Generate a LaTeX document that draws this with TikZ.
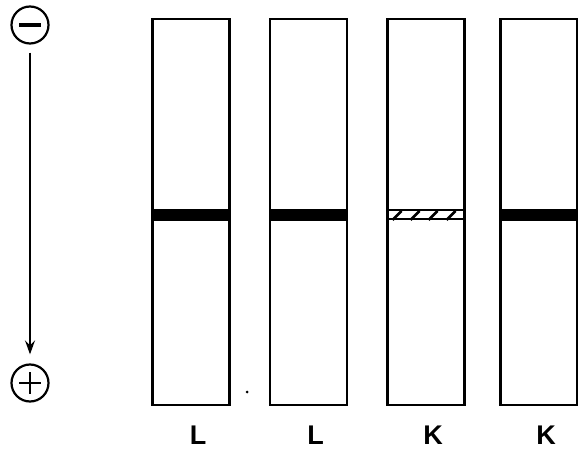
\documentclass[tikz,border=0pt]{standalone}
\usepackage{fontspec}
\setsansfont{Liberation Sans}
\usepackage{tikz}
\usetikzlibrary{arrows.meta,positioning,calc}
\tikzset{
  lane/.style={draw,line width=2.2pt,minimum width=77pt,minimum height=386pt,
    inner sep=0pt},
  band/.style={fill=black,minimum width=77pt,minimum height=12pt,inner sep=0pt},
  faint/.style={draw,line width=2pt,minimum width=77pt,minimum height=9pt,inner sep=0pt},
  pole/.style={draw,circle,line width=2.2pt,minimum size=37pt,inner sep=0pt},
  sign/.style={line width=2.6pt},
  lanelabel/.style={font=\fontsize{27}{30}\sffamily\bfseries},
  flow/.style={->,line width=2pt,shorten <=8pt,shorten >=9pt}
}
\begin{document}
\begin{tikzpicture}[x=1pt,y=-1pt,>={Stealth[length=14pt,width=10pt,inset=5pt]}]
  \useasboundingbox (0,0) rectangle (578,454);
  \node[pole] (cathode) at (30,25) {};
  \node[pole] (anode) at (30,383) {};
  \draw[sign,line width=3.4pt] ($(cathode.center)+(-11,0)$) -- ($(cathode.center)+(11,0)$);
  \draw[sign] ($(anode.center)+(-11,0)$) -- ($(anode.center)+(11,0)$);
  \draw[sign] ($(anode.center)+(0,-11)$) -- ($(anode.center)+(0,11)$);
  \draw[flow] (cathode)--(anode);
  \foreach \n/\x/\lab in {1/191/L,2/308.5/L,3/426/K,4/539/K}{
    \node[lane] (lane\n) at (\x,212) {};
    \node[lanelabel] (lab\n) at (\x+7,435) {\lab};
  }
  \node[band] (bandA) at (lane1.center|-0,215) {};
  \node[band] (bandB) at (lane2.center|-0,215) {};
  \node[faint] (bandC) at (lane3.center|-0,214.5) {};
  \node[band] (bandD) at (lane4.center|-0,215) {};
  % hatching of the weak band
  \foreach \i in {0,1,2,3}{
    \draw[line width=2.6pt] ($(bandC.south west)+(6+\i*18,0)$) -- ++(9,-9);
  }
  \fill (247,392) circle (1.5pt);
\end{tikzpicture}
\end{document}
